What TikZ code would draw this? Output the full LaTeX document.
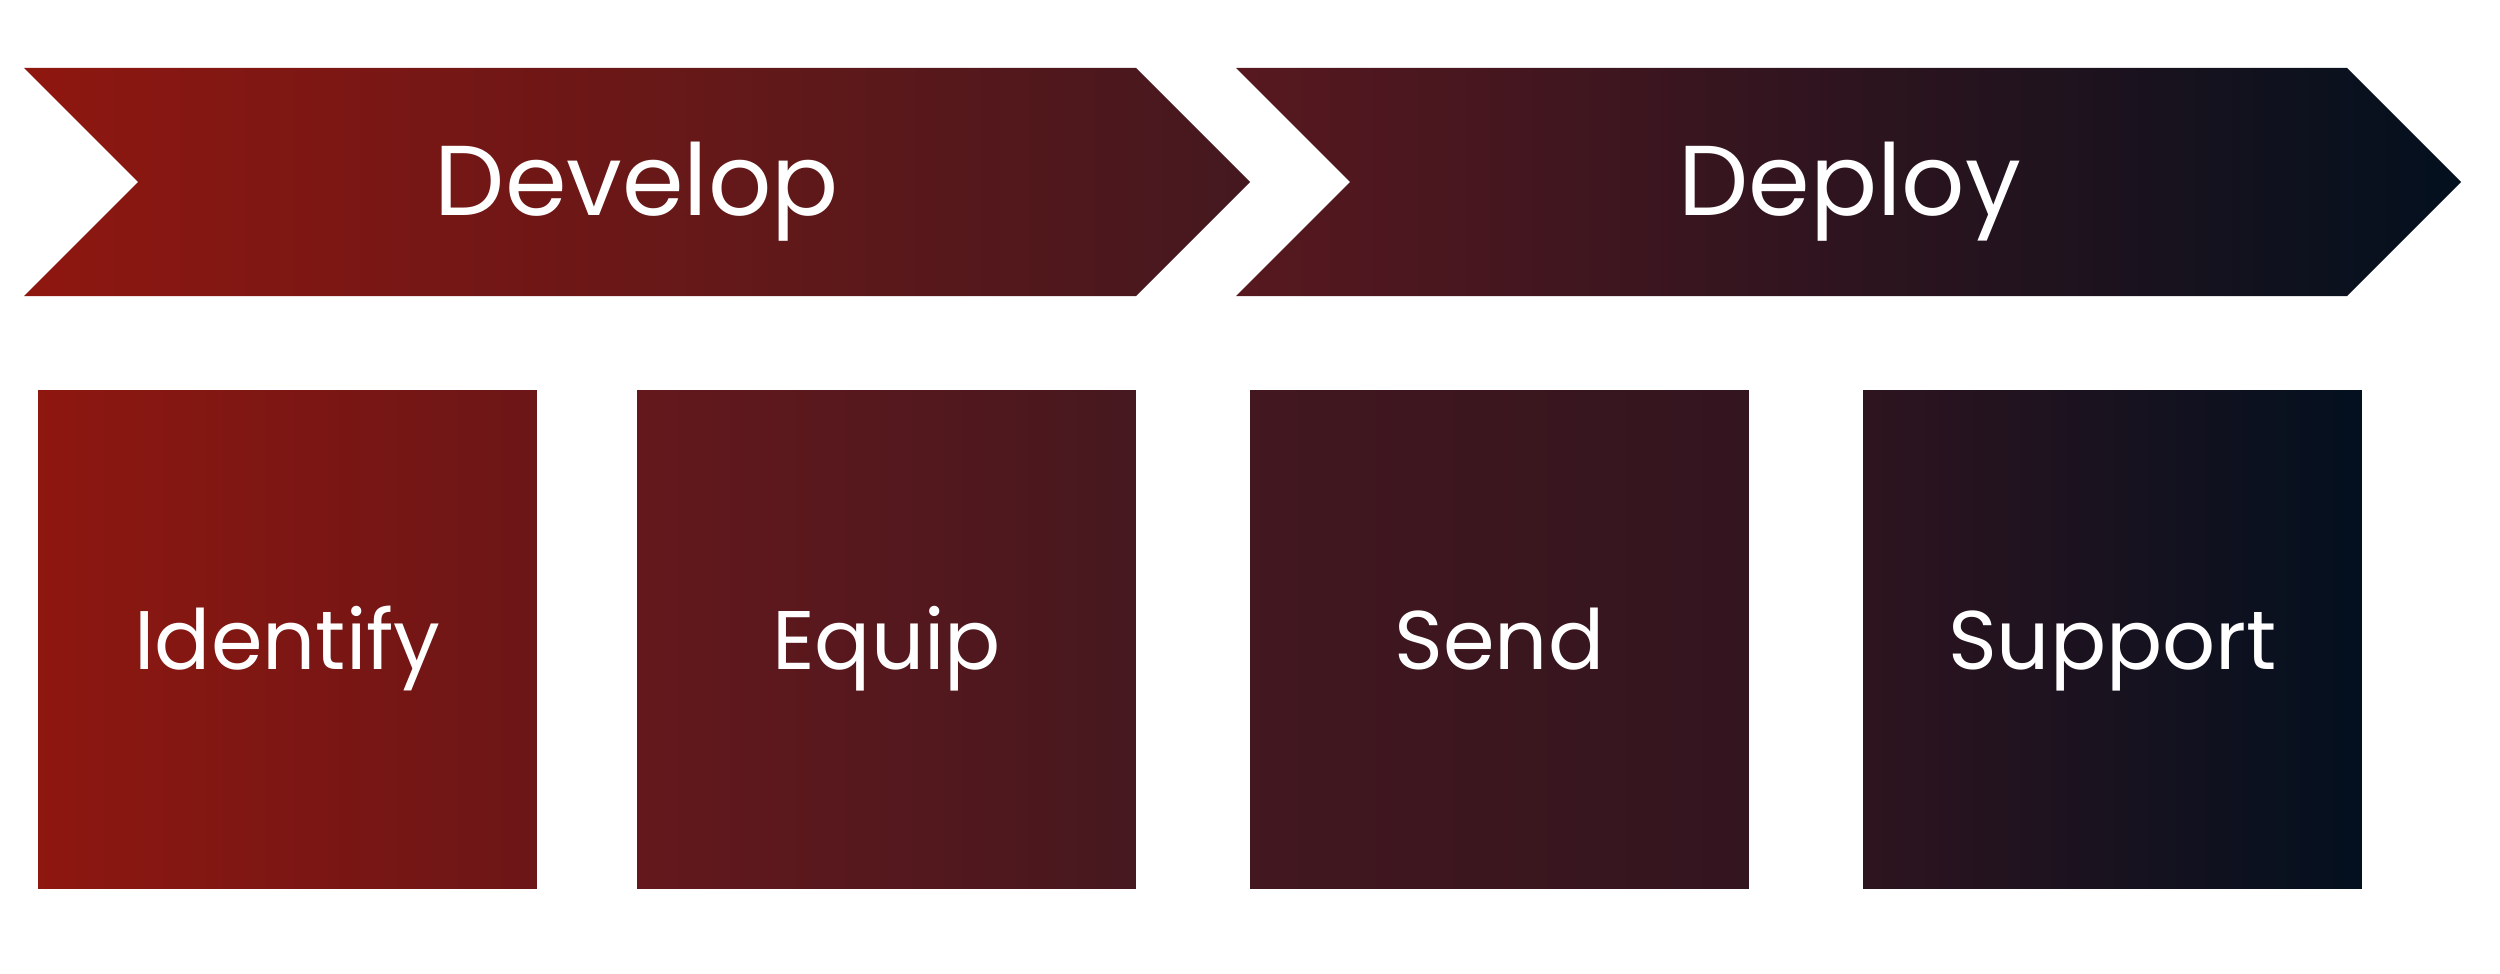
\documentclass[tikz,border=0pt]{standalone}
\usepackage{fontspec}
\setmainfont{Poppins}
\usepackage{tikz}

\definecolor{devleft}{HTML}{8F1710}
\definecolor{devright}{HTML}{44181F}
\definecolor{depleft}{HTML}{58181F}
\definecolor{depright}{HTML}{03101E}
\definecolor{identleft}{HTML}{8E1710}
\definecolor{identright}{HTML}{6C1617}
\definecolor{equipleft}{HTML}{64181C}
\definecolor{equipright}{HTML}{46181F}
\definecolor{sendleft}{HTML}{43171F}
\definecolor{sendright}{HTML}{33151F}
\definecolor{suppleft}{HTML}{2E141F}
\definecolor{suppright}{HTML}{03101F}

\begin{document}
\begin{tikzpicture}[x=0.02cm,y=-0.02cm,
	phase/.style={text=white,inner sep=0pt,font=\fontsize{56.5}{60}\selectfont,text height=38.7pt,text depth=0pt},
	stepbox/.style={text=white,inner sep=0pt,minimum width=9.98cm,minimum height=9.98cm,font=\fontsize{47.3}{51}\selectfont,text height=34.1pt,text depth=0pt}]
	%\draw [help lines] (0,0) grid (2500,973);
	\useasboundingbox (0,0) rectangle (2500,973);
	
	\shade [left color=devleft,right color=devright] (24,68) -- (1136,68) -- (1250,182) -- (1136,296) -- (24,296) -- (138,182) -- cycle;
	\shade [left color=depleft,right color=depright] (1236,68) -- (2347,68) -- (2461,182) -- (2347,296) -- (1236,296) -- (1350,182) -- cycle;
	\node [phase] (develop) at (637,182) {Develop};
	\node [phase] (deploy) at (1850,182) {Deploy};
	
	\node [stepbox,left color=identleft,right color=identright] (identify) at (287.5,639.5) {Identify};
	\node [stepbox,left color=equipleft,right color=equipright] (equip) at (886.5,639.5) {Equip};
	\node [stepbox,left color=sendleft,right color=sendright] (send) at (1499.5,639.5) {Send};
	\node [stepbox,left color=suppleft,right color=suppright] (support) at (2112.5,639.5) {Support};
\end{tikzpicture}
\end{document}
